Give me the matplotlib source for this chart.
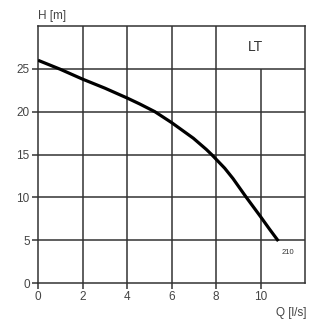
import matplotlib
matplotlib.use("Agg")
import matplotlib.pyplot as plt

plt.rcParams["font.family"] = ["Liberation Sans", "DejaVu Sans"]

# pump curve LT 210
flow = [0, 1, 2, 3, 4, 4.57, 5.25, 6, 6.98, 7.56, 7.8, 8.39, 8.76, 9.36, 10, 10.4, 10.8]
head = [26.0, 24.95, 23.8, 22.75, 21.6, 20.9, 20.0, 18.73, 16.9, 15.6, 15.0, 13.4,
        12.2, 10.0, 7.75, 6.3, 4.9]

x_ticks = [0, 2, 4, 6, 8, 10]
y_ticks = [0, 5, 10, 15, 20, 25]
grid_col = "#333333"
text_col = "#444444"

fig = plt.figure(figsize=(3.28, 3.25), dpi=100)
ax = fig.add_axes([0.1159, 0.1292, 0.8141, 0.7908])
ax.set_xlim(0, 12)
ax.set_ylim(0, 30)

# grid: the line at Q=10 stops below the "LT" box
for yv in y_ticks[1:]:
    ax.axhline(yv, color=grid_col, lw=1.1, zorder=1)
for xv in x_ticks[1:]:
    top = 25 if xv == 10 else 30
    ax.vlines(xv, 0, top, color=grid_col, lw=1.1, zorder=1)

ax.plot(flow, head, color="black", lw=2.3, solid_capstyle="butt",
        solid_joinstyle="round", zorder=3)

ax.text(9.77, 27.5, "LT", fontsize=10, color="#333333", ha="center", va="center")
ax.text(11.22, 3.6, "210", fontsize=5.5, color="#333333", ha="center", va="center")

ax.set_xticks(x_ticks)
ax.set_yticks(y_ticks)
ax.tick_params(direction="out", length=4, width=1.1, colors=grid_col,
               labelsize=8.5, labelcolor=text_col, pad=2)
for s in ax.spines.values():
    s.set_color(grid_col)
    s.set_linewidth(1.1)

fig.text(52 / 328, 1 - 16.5 / 325, "H [m]", fontsize=8.5, color=text_col,
         ha="center", va="center")
fig.text(306 / 328, 1 - 313 / 325, "Q [l/s]", fontsize=8.5, color=text_col,
         ha="right", va="center")

fig.savefig("out.png", dpi=100)
